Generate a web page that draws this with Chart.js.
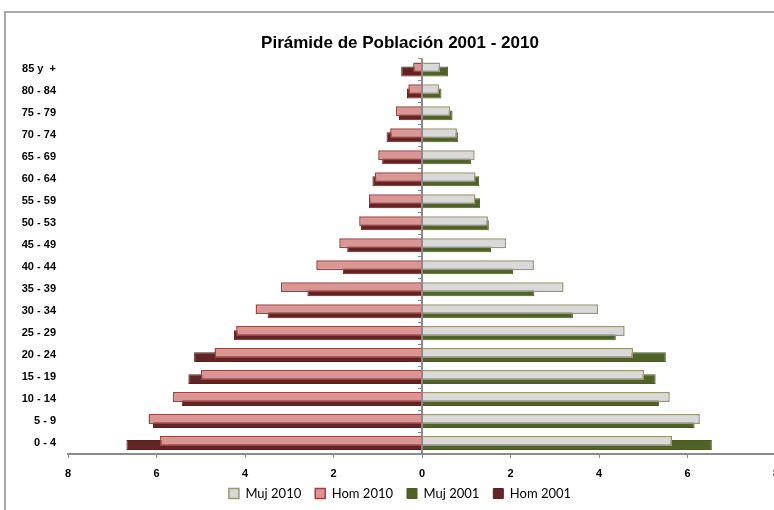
<!DOCTYPE html>
<html>
<head>
<meta charset="utf-8">
<script src="https://cdn.jsdelivr.net/npm/chart.js@4.4.1/dist/chart.umd.min.js"></script>
<style>
    html, body { margin: 0; padding: 0; background: #fff; overflow: hidden; }
    #wrap { position: relative; width: 800px; height: 510px; }
</style>
</head>
<body>
<div id="wrap"><canvas id="pyramid" width="800" height="510"></canvas></div>
<script>
// Age groups, top to bottom
const ageGroups = ['85 y  +', '80 - 84', '75 - 79', '70 - 74', '65 - 69', '60 - 64', '55 - 59', '50 - 53', '45 - 49',
    '40 - 44', '35 - 39', '30 - 34', '25 - 29', '20 - 24', '15 - 19', '10 - 14', '5 - 9', '0 - 4'];

// Percent of population (men drawn on the left)
const muj2010 = [0.41, 0.39, 0.64, 0.79, 1.19, 1.21, 1.21, 1.49, 1.90, 2.53, 3.20, 3.98, 4.58, 4.77, 5.02, 5.60, 6.28, 5.65];
const hom2010 = [0.20, 0.31, 0.59, 0.72, 0.99, 1.07, 1.20, 1.42, 1.87, 2.39, 3.19, 3.76, 4.20, 4.69, 5.00, 5.63, 6.18, 5.92];
const muj2001 = [0.59, 0.44, 0.69, 0.82, 1.11, 1.29, 1.31, 1.51, 1.56, 2.06, 2.54, 3.41, 4.38, 5.51, 5.28, 5.36, 6.16, 6.55];
const hom2001 = [0.47, 0.34, 0.52, 0.80, 0.90, 1.12, 1.20, 1.38, 1.69, 1.79, 2.59, 3.49, 4.25, 5.15, 5.28, 5.43, 6.08, 6.68];

const xMin = -8;
const xMax = 8;
const xStep = 2;

// frame + centre axis with its small tick marks
const framePlugin = {
    id: 'frame',
    beforeDraw(chart) {
        const ctx = chart.ctx;
        ctx.save();
        ctx.fillStyle = '#fff';
        ctx.fillRect(0, 0, chart.width, chart.height);
        ctx.strokeStyle = '#aaaaaa';
        ctx.lineWidth = 2;
        ctx.beginPath();
        ctx.moveTo(5, chart.height);
        ctx.lineTo(5, 12);
        ctx.lineTo(chart.width, 12);
        ctx.stroke();
        ctx.restore();
    },
    afterDatasetsDraw(chart) {
        const { ctx, chartArea, scales } = chart;
        const x0 = scales.x.getPixelForValue(0);
        const n = ageGroups.length;
        const band = (chartArea.bottom - chartArea.top) / n;
        ctx.save();
        ctx.strokeStyle = '#8a8a8a';
        ctx.lineWidth = 2;
        ctx.beginPath();
        ctx.moveTo(x0, chartArea.top);
        ctx.lineTo(x0, chartArea.bottom);
        ctx.stroke();
        ctx.lineWidth = 1;
        ctx.beginPath();
        for (let i = 0; i <= n; i++) {
            const y = Math.round(chartArea.top + band * i) + 0.5;
            ctx.moveTo(x0 - 4, y);
            ctx.lineTo(x0, y);
        }
        ctx.stroke();
        ctx.restore();
    }
};

// tick labels may spill out of their (tight) axis boxes, don't clip them
function noLabelClip(scale) {
    scale._computeLabelArea = () => undefined;
}

const ctx = document.getElementById('pyramid').getContext('2d');
new Chart(ctx, {
    type: 'bar',
    data: {
        labels: ageGroups,
        datasets: [
            {
                label: 'Muj 2010', data: muj2010, stack: 'y2010',
                backgroundColor: '#d9d9d9', borderColor: '#9d9671', borderWidth: 1.5
            },
            {
                label: 'Hom 2010', data: hom2010.map(v => -v), stack: 'y2010',
                backgroundColor: '#da9694', borderColor: '#a83f3d', borderWidth: 1.5
            },
            {
                label: 'Muj 2001', data: muj2001, stack: 'y2001',
                backgroundColor: '#4f6228', borderColor: '#4a5c24', borderWidth: 1
            },
            {
                label: 'Hom 2001', data: hom2001.map(v => -v), stack: 'y2001',
                backgroundColor: '#632523', borderColor: '#5a201f', borderWidth: 1
            }
        ]
    },
    options: {
        indexAxis: 'y',
        responsive: false,
        animation: false,
        devicePixelRatio: 1,
        categoryPercentage: 0.37,
        barPercentage: 2.45,
        layout: { padding: { left: 24, right: 24, top: 14, bottom: 0 } },
        plugins: {
            title: {
                display: true,
                text: 'Pirámide de Población 2001 - 2010',
                color: '#000',
                font: { family: '"Liberation Sans", Arial, sans-serif', size: 17, weight: 'bold' },
                padding: { top: 19, bottom: 5 }
            },
            legend: {
                position: 'bottom',
                labels: {
                    color: '#000',
                    boxWidth: 10,
                    boxHeight: 10,
                    padding: 14,
                    font: { family: 'Lato, "Open Sans", sans-serif', size: 13 }
                }
            },
            tooltip: { enabled: false }
        },
        scales: {
            x: {
                min: xMin,
                max: xMax,
                grid: { drawOnChartArea: false, drawTicks: true, tickLength: 4, color: '#8a8a8a' },
                border: { display: true, color: '#8a8a8a', width: 2 },
                ticks: {
                    stepSize: xStep,
                    padding: 9,
                    color: '#000',
                    font: { family: '"Liberation Sans", Arial, sans-serif', size: 11, weight: 'bold' },
                    callback: v => Math.abs(v)
                },
                afterFit: scale => { scale.height = 19; noLabelClip(scale); }
            },
            y: {
                grid: { display: false, drawTicks: false },
                border: { display: false },
                ticks: {
                    padding: 12,
                    color: '#000',
                    font: { family: '"Liberation Sans", Arial, sans-serif', size: 11, weight: 'bold' }
                },
                afterFit: scale => { scale.width = 44; noLabelClip(scale); }
            }
        }
    },
    plugins: [framePlugin]
});
</script>
</body>
</html>
